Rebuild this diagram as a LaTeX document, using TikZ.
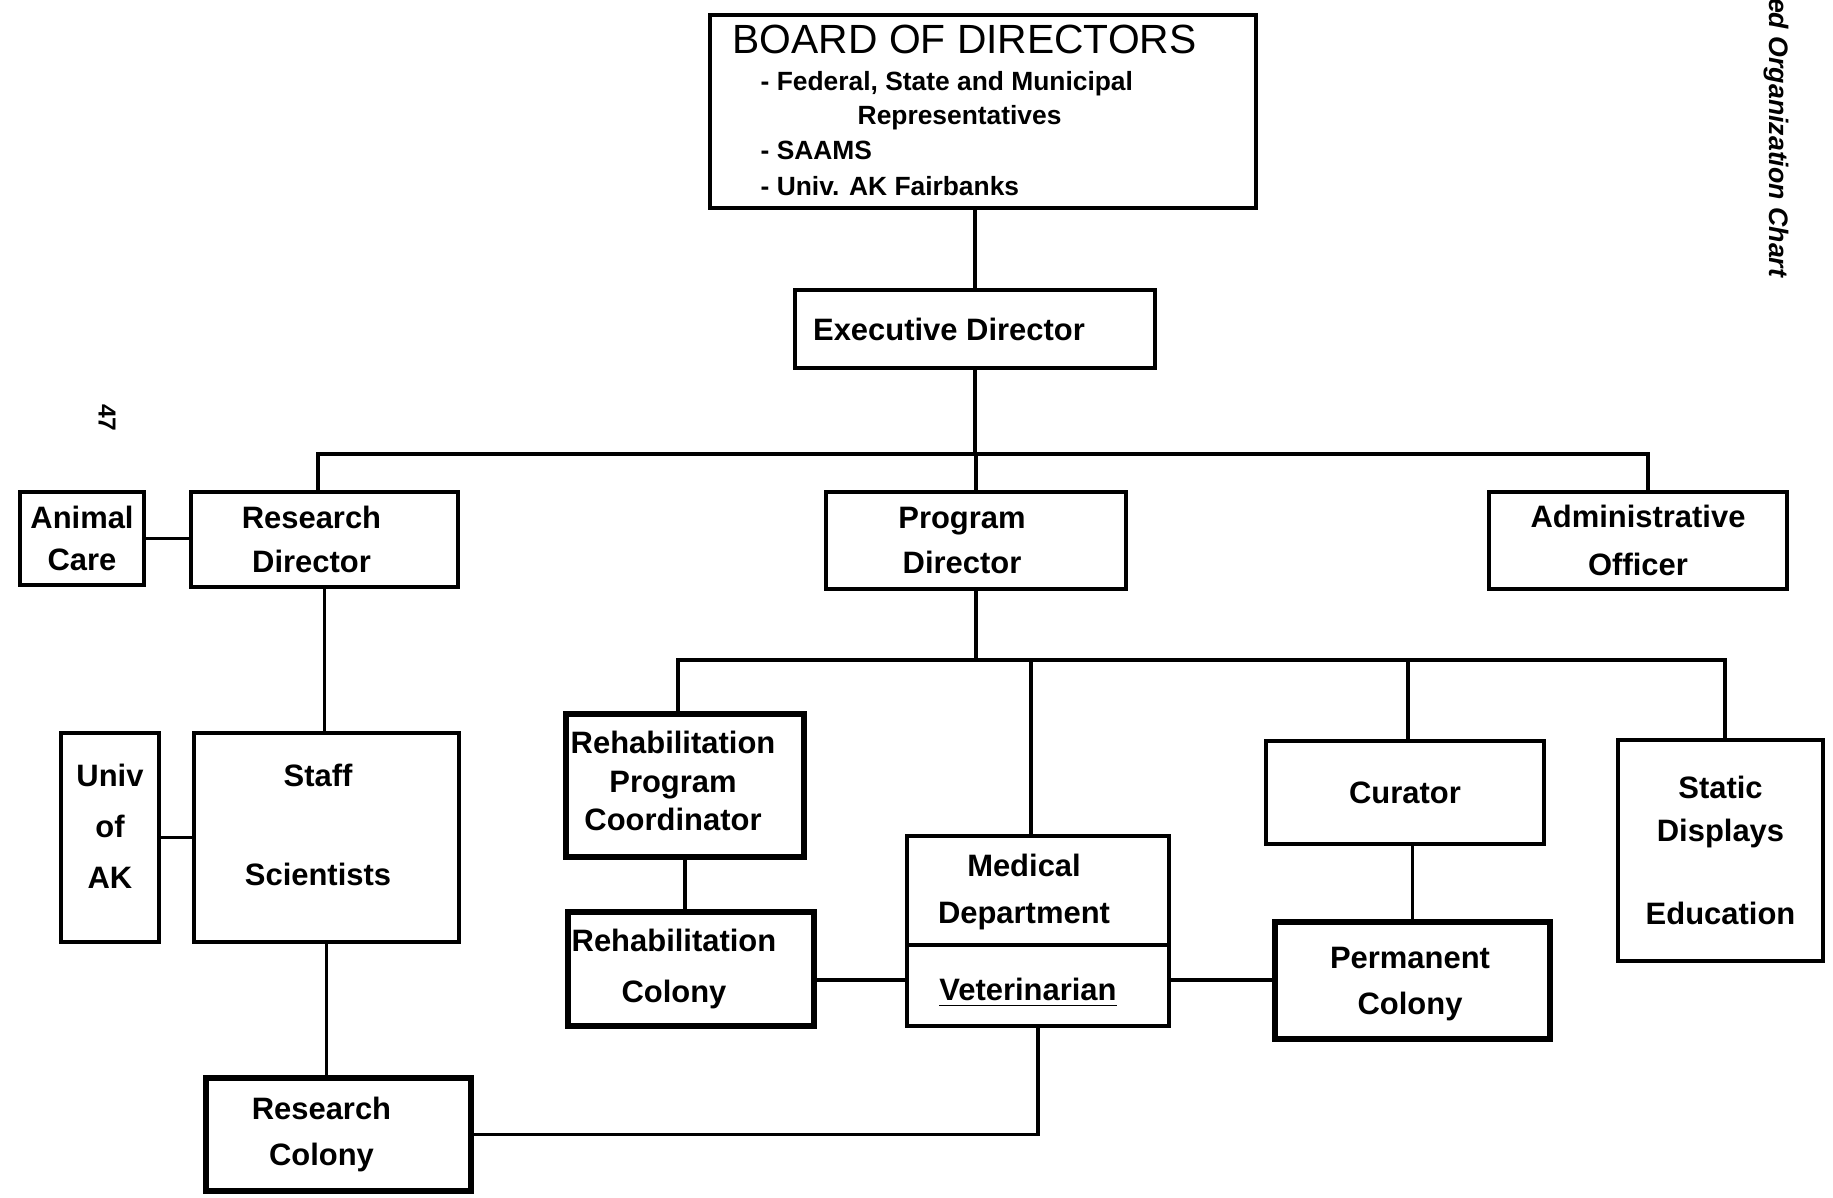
\documentclass[tikz,border=0pt]{standalone}
\usepackage{fontspec}
\setmainfont{Liberation Sans}
\newcommand\lab{\fontsize{8.8}{13}\selectfont\bfseries}
\newcommand\sublab{\fontsize{7.5}{10}\selectfont\bfseries}
\begin{document}
\begin{tikzpicture}[x=0.01cm,y=-0.01cm,
  box/.style={draw, line width=1pt, inner sep=0pt, align=center, font=\lab},
  heavybox/.style={box, line width=1.8pt},
  conn/.style={line width=1pt},
  txt/.style={inner sep=0pt, align=center, font=\lab},
  subtxt/.style={inner sep=0pt, anchor=base west, font=\sublab}]
\useasboundingbox (0,0) rectangle (1833,1198);

% ---------- boxes ----------
\node[box, minimum width=5.46cm, minimum height=1.93cm] (board) at (983,111.5) {};
\node[inner sep=0pt, anchor=base west, font=\fontsize{11.6}{14}\selectfont] (btitle) at (732,54) {BOARD OF DIRECTORS};
\node[subtxt] (bfed) at (760,91) {- Federal, State and Municipal};
\node[subtxt] (brep) at (857,125) {Representatives};
\node[subtxt] (bsaams) at (760,160) {- SAAMS};
\node[subtxt] (buniv) at (760,196) {- Univ. AK Fairbanks};

\node[box, minimum width=3.60cm, minimum height=0.78cm, text depth=0pt] (exec) at (975,329) {\hspace*{-0.52cm}Executive Director};

\node[box, minimum width=1.24cm, minimum height=0.93cm] (animal) at (82,538.5) {Animal\\[-1pt]Care};
\node[box, minimum width=2.67cm, minimum height=0.95cm] (resdir) at (324.5,539.5) {\hspace*{-0.26cm}Research\\[-0.3pt]\hspace*{-0.26cm}Director};
\node[box, minimum width=3.00cm, minimum height=0.97cm] (progdir) at (976,540.5) {\hspace*{-0.28cm}Program\\[-0.3pt]\hspace*{-0.28cm}Director};
\node[box, minimum width=2.98cm, minimum height=0.97cm] (admin) at (1638,540.5) {Administrative\\[0.7pt]Officer};

\node[box, minimum width=0.98cm, minimum height=2.09cm] (univ) at (110,837.5) {};
\node[txt] (univtxt) at (110,826) {Univ\\[1.5pt]of\\[1.5pt]AK};
\node[box, minimum width=2.65cm, minimum height=2.09cm] (staff) at (326.5,837.5) {};
\node[txt] (stafftxt) at (318,825) {Staff\\[15pt]Scientists};
\node[heavybox, minimum width=2.65cm, minimum height=1.13cm] (rescol) at (338.5,1134.5) {\hspace*{-0.34cm}Research\\\hspace*{-0.34cm}Colony};

\node[heavybox, minimum width=2.38cm, minimum height=1.43cm] (rpc) at (685,785.5) {};
\node[txt] (rpctxt) at (673,781) {Rehabilitation\\[-2pt]Program\\[-2pt]Coordinator};
\node[heavybox, minimum width=2.46cm, minimum height=1.14cm] (rcol) at (691,969) {\hspace*{-0.34cm}Rehabilitation\\[1.3pt]\hspace*{-0.34cm}Colony};

\node[box, minimum width=2.62cm, minimum height=1.90cm] (med) at (1038,931) {};
\node[txt] (medtop) at (1024,892) {Medical\\[0.2pt]Department};
\node[txt] (medvet) at (1028,993) {\underline{Veterinarian}};

\node[box, minimum width=2.78cm, minimum height=1.03cm] (curator) at (1405,792.5) {Curator};
\node[heavybox, minimum width=2.75cm, minimum height=1.17cm] (pcol) at (1412.5,980.5) {};
\node[txt] (pcoltxt) at (1410,984) {Permanent\\Colony};
\node[box, minimum width=2.05cm, minimum height=2.21cm] (static) at (1720.5,850.5) {Static\\[-0.8pt]Displays\\[10.5pt]Education};

% ---------- side texts ----------
\node[inner sep=0pt, rotate=-90, anchor=east, font=\fontsize{7.6}{9}\selectfont\bfseries\itshape] (side) at (1776,278) {ed Organization Chart};
\node[inner sep=0pt, rotate=-90, font=\fontsize{7}{8}\selectfont\bfseries] (pagenum) at (107,418) {47};

% ---------- connectors ----------
\coordinate (busL) at (318,454);
\coordinate (busR) at (1648,454);
\coordinate (pbL) at (678,660);
\coordinate (pbM) at (1031,660);
\coordinate (pbC) at (1408,660);
\coordinate (pbR) at (1725,660);
\coordinate (midrow) at (0,980);
\coordinate (meddiv) at (0,945);

\draw[conn] (board.south -| exec.north) -- (exec.north);
\draw[conn] (exec.south) -- (exec.south |- busL);
\draw[conn] (busL |- resdir.north) -- (busL) -- (busR) -- (busR |- admin.north);
\draw[conn] (progdir.north |- busL) -- (progdir.north);

\draw[conn] (animal.east) -- (animal.east -| resdir.west);
\draw[conn] (resdir.south) -- (resdir.south |- staff.north);
\draw[conn] (univ.east) -- (staff.west);
\draw[conn] (staff.south) -- (staff.south |- rescol.north);

\draw[conn] (progdir.south) -- (progdir.south |- pbL);
\draw[conn] (pbL |- rpc.north) -- (pbL) -- (pbR) -- (pbR |- static.north);
\draw[conn] (pbM) -- (pbM |- med.north);
\draw[conn] (pbC) -- (pbC |- curator.north);

\draw[conn] (rpc.south) -- (rpc.south |- rcol.north);
\draw[conn] (pcol.north |- curator.south) -- (pcol.north);
\draw[conn] (med.west |- meddiv) -- (med.east |- meddiv);
\draw[conn] (rcol.east |- midrow) -- (med.west |- midrow);
\draw[conn] (med.east |- midrow) -- (pcol.west |- midrow);
\draw[conn] (rescol.east) -- (rescol.east -| med.south) -- (med.south);
\end{tikzpicture}
\end{document}
